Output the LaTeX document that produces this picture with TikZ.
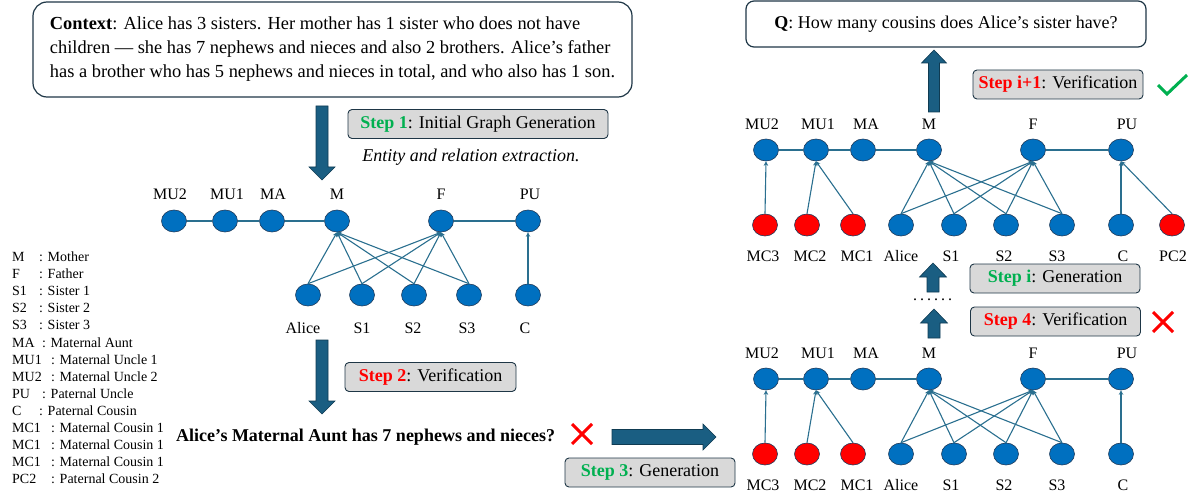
\documentclass[tikz,border=0pt]{standalone}
\usepackage{fontspec}
\setmainfont{Liberation Serif}
\usetikzlibrary{shapes.geometric,arrows.meta,calc}
\definecolor{nodeblue}{HTML}{0070C0}
\definecolor{nodeline}{HTML}{1F3A5A}
\definecolor{nodered}{HTML}{FF0000}
\definecolor{edgecol}{HTML}{2A6F8F}
\definecolor{arrfill}{HTML}{1A5E82}
\definecolor{arrline}{HTML}{0F3B52}
\definecolor{boxline}{HTML}{1E3646}
\definecolor{stepgray}{HTML}{D9D9D9}
\definecolor{stepgreen}{HTML}{00B050}
\definecolor{stepred}{HTML}{FF0000}
\newcommand{\ArrDown}[5]{\draw[bigarrow] ($(#1)+(-#3,0)$) -- ($(#1)+(#3,0)$) -- ($(#2)+(#3,-#5)$) -- ($(#2)+(#4,-#5)$) -- (#2) -- ($(#2)+(-#4,-#5)$) -- ($(#2)+(-#3,-#5)$) -- cycle;}
\newcommand{\ArrUp}[5]{\draw[bigarrow] ($(#1)+(-#3,0)$) -- ($(#1)+(#3,0)$) -- ($(#2)+(#3,#5)$) -- ($(#2)+(#4,#5)$) -- (#2) -- ($(#2)+(-#4,#5)$) -- ($(#2)+(-#3,#5)$) -- cycle;}
\newcommand{\ArrRight}[5]{\draw[bigarrow] ($(#1)+(0,-#3)$) -- ($(#2)+(-#5,-#3)$) -- ($(#2)+(-#5,-#4)$) -- (#2) -- ($(#2)+(-#5,#4)$) -- ($(#2)+(-#5,#3)$) -- ($(#1)+(0,#3)$) -- cycle;}
\newcommand{\RedCross}[3]{\draw[xmark] ($(#1)+(-#2,-#3)$) -- ($(#1)+(#2,#3)$) ($(#1)+(-#2,#3)$) -- ($(#1)+(#2,-#3)$);}
\tikzset{
  gn/.style={ellipse, minimum width=25pt, minimum height=22pt, inner sep=0pt, fill=nodeblue, draw=nodeline, line width=0.6pt},
  rn/.style={gn, fill=nodered},
  lbl/.style={font=\fontsize{16}{18}\selectfont, inner sep=0pt},
  edge/.style={draw=edgecol, line width=1.1pt, -{Stealth[length=4.5pt,width=4.5pt]}},
  link/.style={draw=edgecol, line width=1.1pt},
  stepbox/.style={draw=boxline, fill=stepgray, rounded corners=4pt, line width=0.9pt, minimum height=29pt, inner sep=0pt, font=\fontsize{18}{20}\selectfont},
  bigarrow/.style={fill=arrfill, draw=arrline, line width=0.6pt, line join=miter},
  xmark/.style={draw=stepred, line width=3pt},
  legend/.style={font=\fontsize{14}{16}\selectfont, inner sep=0pt, anchor=base west},
}
\newcommand{\sg}[1]{{\bfseries\color{stepgreen}#1}}
\newcommand{\sr}[1]{{\bfseries\color{stepred}#1}}
\begin{document}
\begin{tikzpicture}[x=1pt,y=-1pt]
\useasboundingbox (0,0) rectangle (1195,492);
% context box
\node[draw=boxline, line width=1.2pt, rounded corners=14pt, minimum width=599pt, minimum height=95pt, align=left, font=\fontsize{18.4}{24}\selectfont] (ctx) at (332.5,49.5)
 {\textbf{Context}: Alice has 3 sisters. Her mother has 1 sister who does not have\\
  children — she has 7 nephews and nieces and also 2 brothers. Alice’s father\\
  has a brother who has 5 nephews and nieces in total, and who also has 1 son.};
% Q box
\node[draw=boxline, line width=1.2pt, rounded corners=8pt, minimum width=400pt, minimum height=46pt, font=\fontsize{18}{20}\selectfont] (q) at (946,24)
 {\textbf{Q}: How many cousins does Alice’s sister have?};
% step boxes
\node[stepbox, minimum width=260pt] (st1) at (478,124) {\sg{Step 1}: Initial Graph Generation};
\node[font=\fontsize{18}{20}\selectfont\itshape, inner sep=0pt] (ent) at (471,157) {Entity and relation extraction.};
\node[stepbox, minimum width=171pt] (st2) at (430.5,377) {\sr{Step 2}: Verification};
\node[stepbox, minimum width=170pt] (st3) at (650,472.5) {\sg{Step 3}: Generation};
\node[stepbox, minimum width=170pt] (st4) at (1055.5,321.5) {\sr{Step 4}: Verification};
\node[stepbox, minimum width=170pt] (sti) at (1055,278.5) {\sg{Step i}: Generation};
\node[stepbox, minimum width=170pt] (stj) at (1058,84.5) {\sr{Step i+1}: Verification};
% question text
\node[font=\fontsize{18}{20}\selectfont\bfseries, inner sep=0pt, anchor=west] (qa) at (176,437) {Alice’s Maternal Aunt has 7 nephews and nieces?};
% marks
\coordinate (x1) at (582,434);
\RedCross{x1}{10}{10}
\coordinate (x2) at (1163,322);
\RedCross{x2}{10}{10}
\draw[draw=stepgreen, line width=3pt] (1158,85) -- (1167,94) -- (1187,75);
\node[font=\fontsize{16}{18}\selectfont, inner sep=0pt, anchor=base] (dots) at (932.5,300) {.\kern3pt.\kern3pt.\kern3pt.\kern3pt.\kern3pt.};
% big arrows
\coordinate (a1s) at (322,106); \coordinate (a1e) at (322,180);
\ArrDown{a1s}{a1e}{6}{13}{13}
\coordinate (a2s) at (322,340); \coordinate (a2e) at (322,414);
\ArrDown{a2s}{a2e}{6}{13}{13}
\coordinate (a3s) at (612,437); \coordinate (a3e) at (716,437);
\ArrRight{a3s}{a3e}{7.5}{13}{13}
\coordinate (a4s) at (934,338); \coordinate (a4e) at (934,309);
\ArrUp{a4s}{a4e}{6}{13.5}{14}
\coordinate (a5s) at (933,292); \coordinate (a5e) at (933,263);
\ArrUp{a5s}{a5e}{6}{13.5}{14}
\coordinate (a6s) at (934,112); \coordinate (a6e) at (934,50);
\ArrUp{a6s}{a6e}{5.5}{12.5}{13}
% legend
\foreach \a/\w/\t [count=\i] in {M/27/Mother, F/27/Father, S1/27/Sister 1, S2/27/Sister 2, S3/27/Sister 3, MA/30/Maternal Aunt, MU1/39/Maternal Uncle 1, MU2/39/Maternal Uncle 2, PU/30/Paternal Uncle, C/27/Paternal Cousin, MC1/39/Maternal Cousin 1, MC1/39/Maternal Cousin 1, MC1/39/Maternal Cousin 1, PC2/39/Paternal Cousin 2}
  \node[legend] (leg\i) at (12,{261.5+17.1*(\i-1)}) {\makebox[\w pt][l]{\a}: \t};
% ---------- left graph
\foreach \n/\x in {MU2/174, MU1/225, MA/272, M/337, F/441, PU/528}
  \node[gn] (L\n) at (\x,221) {};
\foreach \n/\x in {Alice/308, S1/362, S2/414, S3/469, C/528}
  \node[gn] (L\n) at (\x,295) {};
\foreach \n/\x in {MU2/170, MU1/227, MA/273, M/337, F/441, PU/530}
  \node[lbl] (Ll\n) at (\x,194) {\n};
\foreach \n/\x in {Alice/303, S1/362, S2/413, S3/467, C/525}
  \node[lbl] (Ll\n) at (\x,328) {\n};
\draw[link] (LMU2) -- (LMU1) (LMU1) -- (LMA) (LMA) -- (LM) (LF) -- (LPU);
\foreach \c in {Alice,S1,S2,S3} \foreach \p in {M,F}
  \draw[edge] (L\c.north) -- (L\p.south);
\draw[edge] (LC.north) -- (LPU.south);
% ---------- right graphs
\foreach \g/\yt/\yb/\ylt/\ylb in {A/150/225/124/256, B/379/454/353/485}{
  \foreach \n/\x in {MU2/766, MU1/816, MA/863, M/929, F/1033, PU/1121}
    \node[gn] (\g\n) at (\x,\yt) {};
  \foreach \n/\x in {MC3/765, MC2/807, MC1/853}
    \node[rn] (\g\n) at (\x,\yb) {};
  \foreach \n/\x in {Alice/901, S1/954, S2/1006, S3/1062, C/1121}
    \node[gn] (\g\n) at (\x,\yb) {};
  \foreach \n/\x in {MU2/762, MU1/818, MA/866, M/929, F/1033, PU/1127}
    \node[lbl] (\g l\n) at (\x,\ylt) {\n};
  \foreach \n/\x in {MC3/763, MC2/810, MC1/857, Alice/901, S1/951, S2/1004, S3/1057, C/1123}
    \node[lbl] (\g l\n) at (\x,\ylb) {\n};
  \draw[link] (\g MU2) -- (\g MU1) (\g MU1) -- (\g MA) (\g MA) -- (\g M) (\g F) -- (\g PU);
  \foreach \c in {Alice,S1,S2,S3} \foreach \p in {M,F}
    \draw[edge] (\g\c.north) -- (\g\p.south);
  \draw[edge] (\g C.north) -- (\g PU.south);
  \draw[edge] (\g MC3.north) -- (\g MU2.south);
  \draw[edge] (\g MC2.north) -- (\g MU1.south);
  \draw[edge] (\g MC1.north) -- (\g MU1.south);
}
\node[rn] (APC2) at (1172,225) {};
\node[lbl] (AlPC2) at (1173,256) {PC2};
\draw[edge] (APC2.north) -- (APU.south);
\end{tikzpicture}
\end{document}
